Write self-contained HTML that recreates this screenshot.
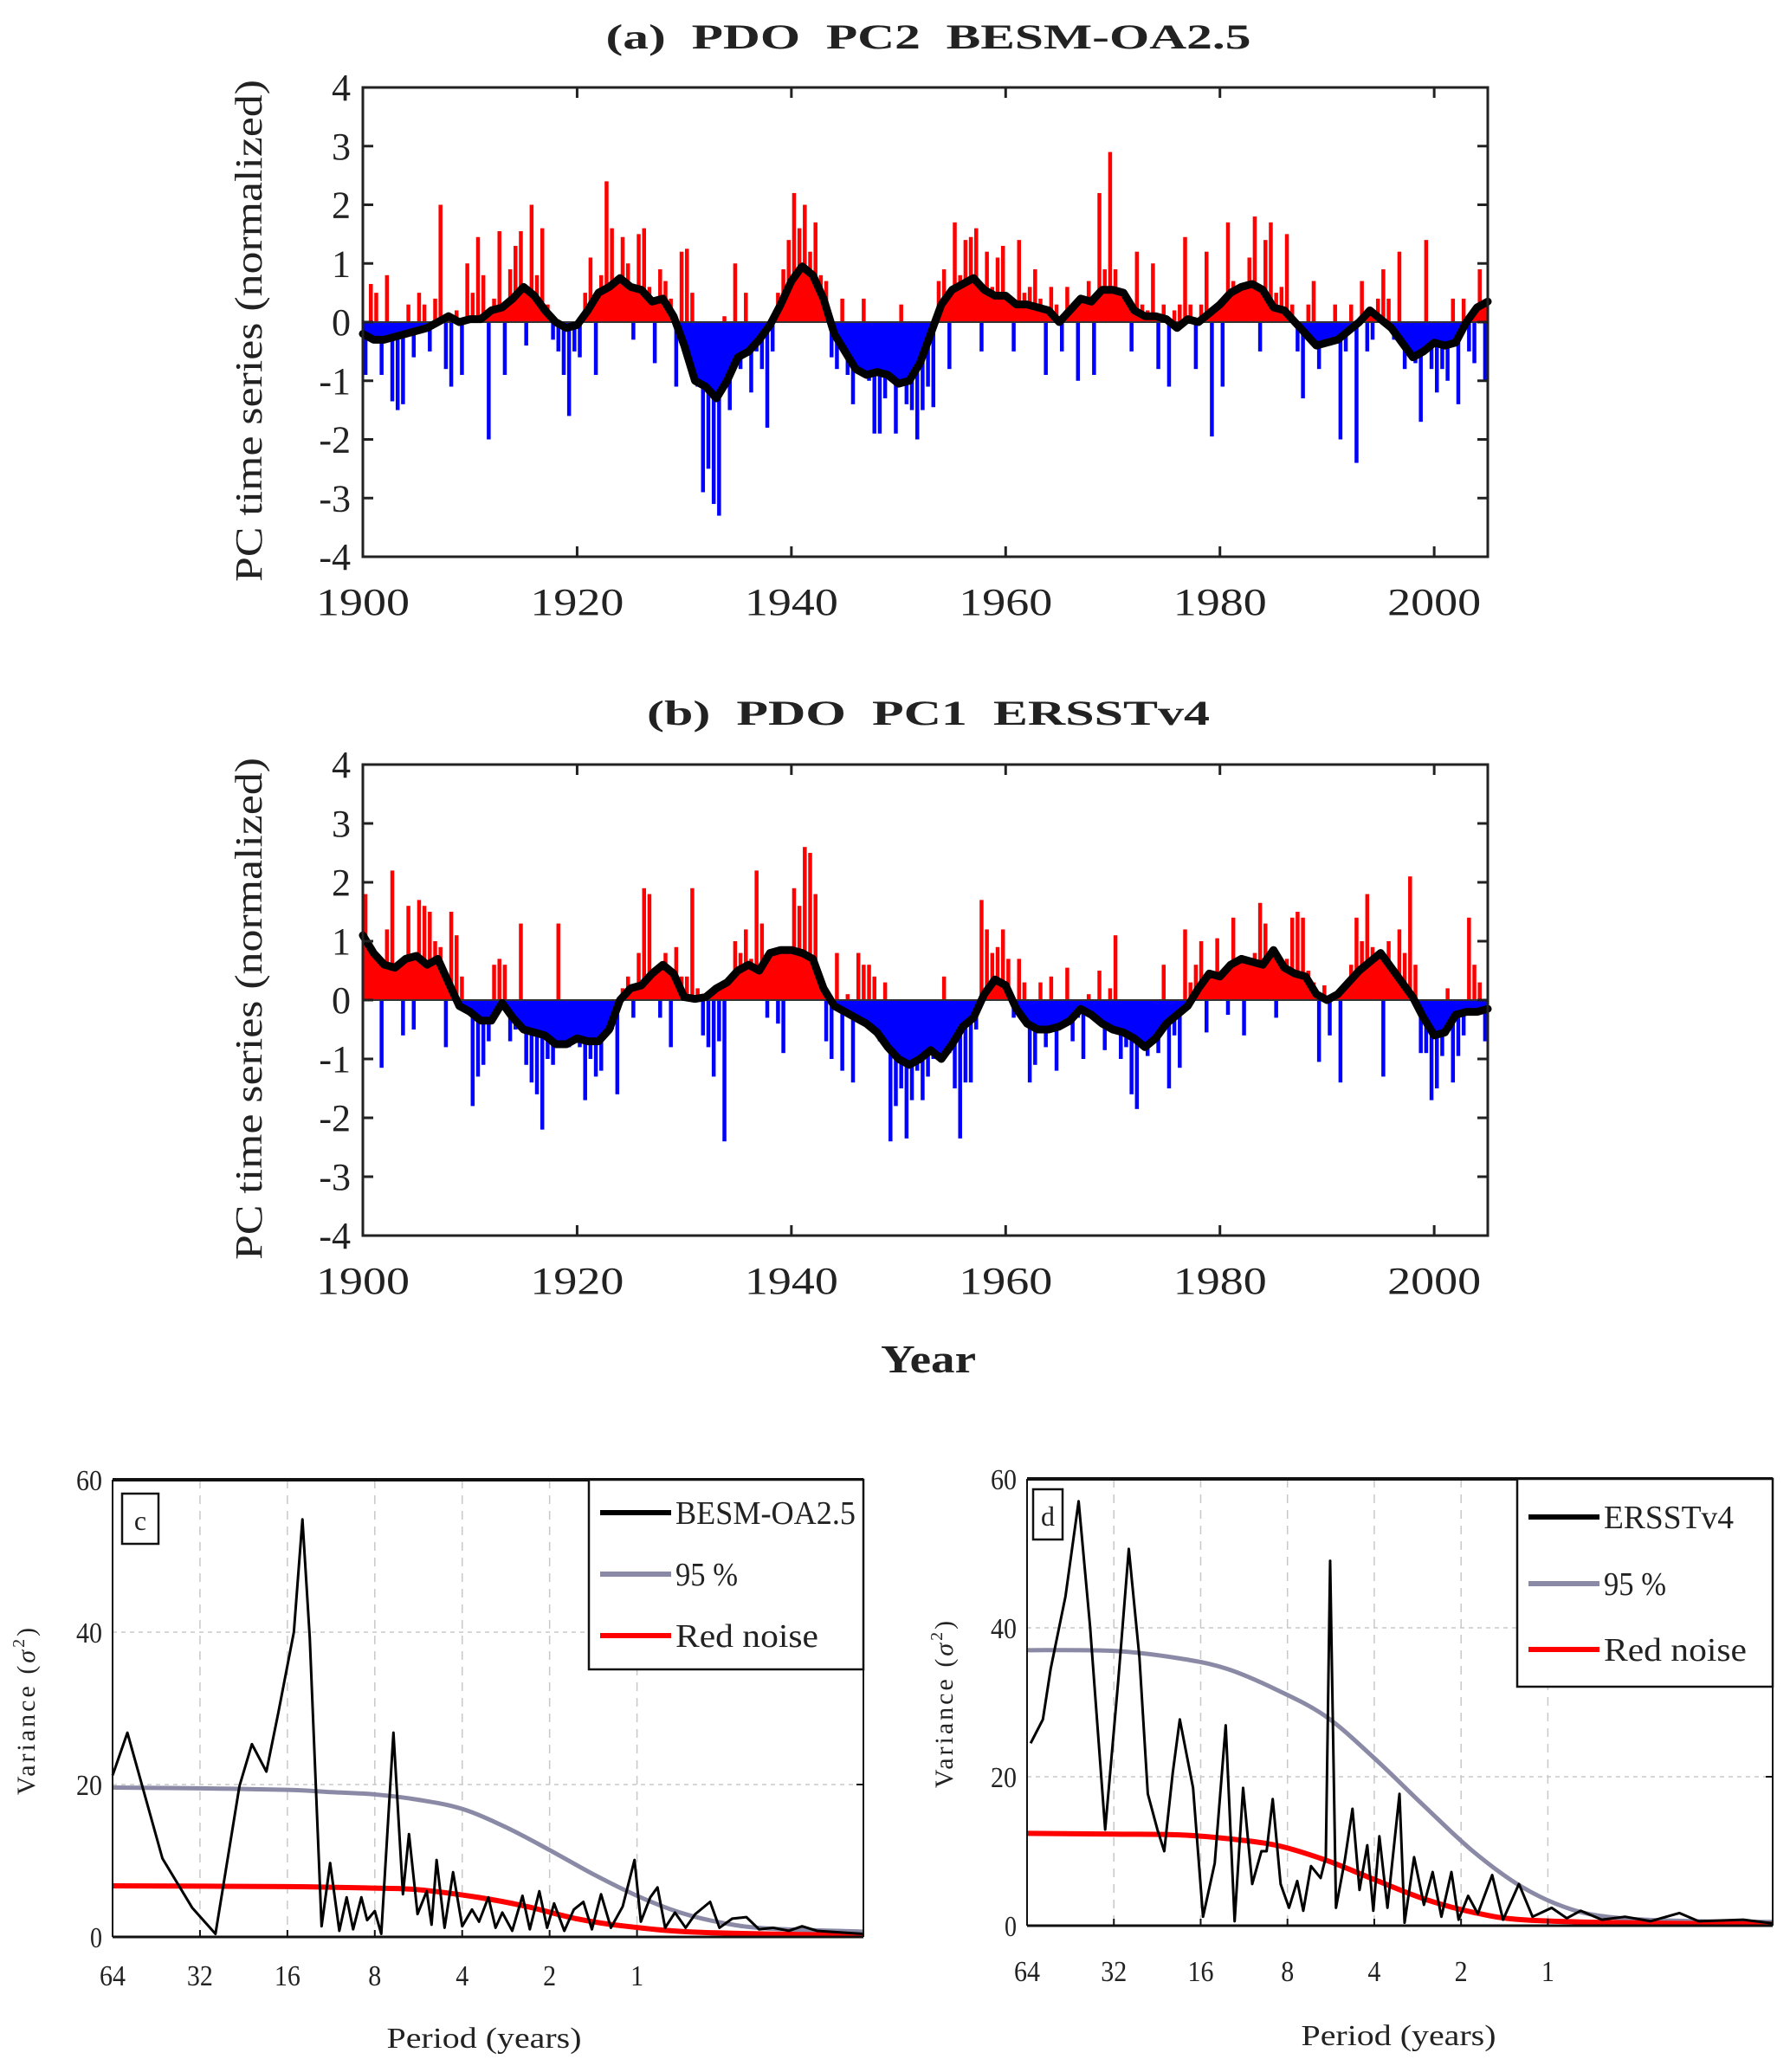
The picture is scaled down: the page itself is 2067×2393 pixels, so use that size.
<!DOCTYPE html>
<html><head><meta charset="utf-8"><title>PDO PC time series and spectra</title>
<style>
html,body{margin:0;padding:0;background:#fff;}
svg{display:block;}
text{font-family:"Liberation Serif",serif;fill:#222;}
</style></head>
<body>
<svg id="fig" xmlns="http://www.w3.org/2000/svg" width="2067" height="2393" viewBox="0 0 2067 2393">
<rect x="0" y="0" width="2067" height="2393" fill="#fff"/>
<g id="layer"></g>
</svg>
<script>
// ---------- Panel (a) data: half-year values 1900.0 .. 2004.5 ----------
const pcA = [
-0.9,0.65, 0.5,-0.9, 0.8,-1.35, -1.5,-1.4, 0.3,-0.6, 0.5,0.3, -0.5,0.4, 2.0,-0.8, -1.1,0.2, -0.9,1.0,
0.5,1.45, 0.8,-2.0, 0.4,1.55, -0.9,0.9, 1.3,1.55, -0.4,2.0, 0.8,1.6, 0.3,-0.3, -0.5,-0.9, -1.6,-0.5,
-0.6,0.5, 1.1,-0.9, 0.8,2.4, 1.6,0.7, 1.45,1.0, -0.3,1.5, 1.6,0.6, -0.7,0.9, 0.7,0.4, -1.1,1.2,
1.25,0.5, -1.1,-2.9, -2.5,-3.1, -3.3,0.1, -1.5,1.0, -0.8,0.5, -1.2,-0.5, -0.8,-1.8, -0.5,0.5, 0.9,1.4,
2.2,1.6, 2.0,1.2, 1.7,0.8, 0.7,-0.6, -0.8,0.4, -0.9,-1.4, -0.7,0.4, -1.0,-1.9, -1.9,-1.3, -1.0,-1.9,
0.3,-1.4, -1.5,-2.0, -1.5,-1.1, -1.45,0.7, 0.9,-0.8, 1.7,0.8, 1.4,1.45, 1.6,-0.5, 1.2,0.6, 1.1,1.3,
0.4,-0.5, 1.4,0.5, 0.6,0.9, 0.4,-0.9, 0.6,0.3, -0.5,0.6, 0.3,-1.0, 0.4,0.7, -0.9,2.2, 0.9,2.9,
0.9,0.5, 0.3,-0.5, 1.2,0.3, 0.2,1.0, -0.8,0.3, -1.1,0.2, 0.3,1.45, 0.3,-0.8, 0.3,1.2, -1.95,0.2,
-1.1,1.7, 0.7,0.5, 0.6,1.1, 1.8,-0.5, 1.4,1.7, 0.5,0.6, 1.5,0.3, -0.5,-1.3, 0.3,0.7, -0.8,-0.3,
-0.4,0.3, -2.0,-0.5, 0.3,-2.4, 0.7,-0.5, -0.3,0.4, 0.9,0.4, -0.3,1.2, -0.8,-0.6, -0.7,-1.7, 1.4,-0.8,
-1.2,-0.8, -1.0,0.4, -1.4,0.4, -0.5,-0.7, 0.9,-1.0];
// annual smoothed index 1900..2005
const smoothA = [
-0.2,-0.3,-0.3,-0.25,-0.2,-0.15,-0.1,0.0,0.1,0.0, 0.05,0.05,0.2,0.25,0.4,0.6,0.45,0.2,0.0,-0.1,
-0.05,0.2,0.5,0.6,0.75,0.6,0.55,0.35,0.4,0.1, -0.4,-1.0,-1.1,-1.3,-1.0,-0.6,-0.5,-0.3,-0.05,0.3,
0.7,0.95,0.8,0.4,-0.2,-0.5,-0.8,-0.9,-0.85,-0.9, -1.05,-1.0,-0.7,-0.2,0.3,0.55,0.65,0.75,0.55,0.45,
0.45,0.3,0.3,0.25,0.2,0.0,0.2,0.4,0.35,0.55, 0.55,0.5,0.2,0.1,0.1,0.05,-0.1,0.05,0.0,0.15,
0.3,0.5,0.6,0.65,0.55,0.25,0.2,0.0,-0.2,-0.4, -0.35,-0.3,-0.15,0.0,0.2,0.05,-0.1,-0.35,-0.6,-0.5,
-0.35,-0.4,-0.35,0.0,0.25,0.35];
// ---------- Panel (b) data ----------
const pcB = [
1.8,0.3, 0.3,-1.15, 1.2,2.2, 0.5,-0.6, 1.6,-0.5, 1.7,1.6, 1.5,1.0, 0.9,-0.8, 1.5,1.1, 0.4,-0.2,
-1.8,-1.3, -1.1,-0.7, 0.6,0.7, 0.6,-0.7, -0.5,1.3, -1.1,-1.4, -1.6,-2.2, -1.0,-1.1, 1.3,-0.6, -0.8,-0.5,
-0.8,-1.7, -1.0,-1.3, -1.2,-0.6, -0.5,-1.6, 0.2,0.4, -0.3,0.8, 1.9,1.8, 0.3,-0.3, 0.8,-0.8, 0.9,0.4,
0.4,1.9, 0.2,-0.6, -0.8,-1.3, -0.7,-2.4, 0.4,1.0, 0.8,1.2, 0.7,2.2, 1.3,-0.3, 0.4,-0.4, -0.9,0.4,
1.9,1.6, 2.6,2.5, 1.8,0.3, -0.7,-1.0, 0.8,-1.2, 0.1,-1.4, 0.8,0.6, 0.6,0.4, -0.7,0.3, -2.4,-1.8,
-1.5,-2.35, -1.7,-1.2, -1.7,-1.3, -1.0,-0.8, 0.4,-0.9, -1.5,-2.35, -1.4,-1.4, -0.5,1.7, 1.2,0.8, 0.9,1.2,
0.7,-0.3, 0.7,0.3, -1.4,-1.1, 0.3,-0.8, 0.4,-1.2, -0.4,0.55, -0.7,-0.3, -1.0,0.1, -0.3,0.5, -0.85,0.2,
1.1,-1.0, -0.8,-1.6, -1.85,-0.3, -0.95,-0.5, -0.9,0.6, -1.5,-0.6, -1.15,1.2, 0.3,0.6, 1.0,-0.55, 0.5,1.05,
0.4,-0.25, 1.4,0.6, -0.6,0.35, 0.8,1.65, 1.3,0.8, -0.3,0.6, 0.7,1.4, 1.5,1.4, 0.5,0.3, -1.05,0.25,
-0.6,0.0, -1.4,0.3, 0.6,1.4, 1.0,1.8, 0.9,0.3, -1.3,1.0, 0.5,1.2, 0.8,2.1, 0.6,-0.9, -0.9,-1.7,
-1.5,-0.95, 0.2,-1.4, -0.95,-0.6, 1.4,0.6, 0.3,-0.7];
const smoothB = [
1.1,0.8,0.6,0.55,0.7,0.75,0.6,0.7,0.3,-0.1, -0.2,-0.35,-0.35,-0.05,-0.3,-0.5,-0.55,-0.6,-0.75,-0.75,
-0.65,-0.7,-0.7,-0.5,0.0,0.2,0.25,0.45,0.6,0.45, 0.05,0.02,0.05,0.2,0.3,0.5,0.6,0.5,0.8,0.85,
0.85,0.8,0.7,0.2,-0.1,-0.2,-0.3,-0.4,-0.55,-0.8, -1.0,-1.1,-1.0,-0.85,-1.0,-0.75,-0.45,-0.3,0.1,0.35,
0.25,-0.15,-0.4,-0.5,-0.5,-0.45,-0.35,-0.15,-0.25,-0.4, -0.5,-0.55,-0.65,-0.8,-0.65,-0.4,-0.25,-0.1,0.2,0.45,
0.4,0.6,0.7,0.65,0.6,0.85,0.55,0.45,0.4,0.1, 0.0,0.1,0.3,0.5,0.65,0.8,0.55,0.3,0.05,-0.3,
-0.6,-0.55,-0.25,-0.2,-0.2,-0.15];
const yearTicks = [1900,1920,1940,1960,1980,2000];
const pcTicks = [4,3,2,1,0,-1,-2,-3,-4];

// ---------- Spectrum (c) ----------
const cPeriods = [64,56.9,43.1,34.0,28.3,23.4,21.2,18.9,17.2,15.2,14.2,13.4,12.2,11.4,10.6,10.0,9.5,8.9,8.5,8.0,7.6,6.9,6.4,6.1,5.7,5.3,5.1,4.9,4.6,4.3,4.0,3.7,3.5,3.25,3.07,2.91,2.69,2.48,2.34,2.17,2.04,1.93,1.78,1.65,1.53,1.43,1.33,1.23,1.12,1.02,0.97,0.90,0.85,0.80,0.74,0.68,0.63,0.56,0.52,0.47,0.42,0.38,0.34,0.30,0.27,0.24,0.20,0.166];
const cVariance = [21.2,26.8,10.3,3.8,0.4,19.8,25.3,21.7,29.4,40,54.8,39.3,1.4,9.7,0.8,5.2,1,5.2,2.2,3.4,0.4,26.8,5.6,13.5,3,6,1.6,10.1,1.2,8.5,1.4,3.6,2,5.2,1.2,3.2,0.8,5.4,1,6,1.2,4.4,0.8,3.6,4.6,1,5.6,1.2,4,10.1,2,5.2,6.5,1.2,3.2,1.2,3,4.6,1.2,2.4,2.6,1,1.2,0.8,1.4,0.8,0.6,0.4];
const c95Periods = [64,32,16,11.3,8,5.66,4,2.83,2,1.41,1,0.71,0.5,0.35,0.166];
const c95Values = [19.6,19.5,19.3,19.0,18.7,18.0,16.8,14.4,11.4,8.2,5.4,3.2,1.8,1.1,0.7];
const cRedPeriods = [64,16,8,5.66,3.53,2.4,1.62,1.09,0.6,0.166];
const cRedValues = [6.7,6.6,6.4,6.2,5.2,4.0,2.4,1.4,0.6,0.2];
// ---------- Spectrum (d) ----------
const dPeriods = [62.2,56.4,53.0,47.1,42.4,38.7,34.3,30.9,28.4,26.1,24.4,22.6,21.4,20.0,18.9,17.0,15.7,14.3,13.1,12.2,11.4,10.6,9.85,9.45,9.0,8.45,7.9,7.4,7.05,6.63,6.14,5.89,5.69,5.43,5.06,4.76,4.5,4.23,4.03,3.84,3.6,3.27,3.14,2.91,2.69,2.51,2.34,2.16,2.04,1.89,1.75,1.56,1.43,1.26,1.13,0.97,0.86,0.77,0.65,0.54,0.44,0.35,0.30,0.21,0.166];
const dVariance = [24.5,27.7,34.5,44.2,57,40.2,12.9,32.9,50.6,36.1,17.7,12.9,10,20.5,27.7,18.5,1.2,8.4,26.9,0.6,18.5,5.6,10,10,17,5.6,2.4,6,2,8,6.4,9.2,49,2.4,8.8,15.7,4.8,10.8,2,12,2.4,17.7,0.4,9.2,2.8,7.2,1.2,7.2,0.8,4,1.6,6.8,0.8,5.6,1.2,2.4,1,2,0.8,1.2,0.6,1.7,0.6,0.8,0.3];
const d95Periods = [64,32,19,13,8.75,5.89,4,2.69,1.82,1.23,0.83,0.56,0.31,0.166];
const d95Values = [37,36.9,35.9,34.5,31.7,28.1,22.5,16.1,10,5.2,2.2,1.0,0.6,0.5];
const dRedPeriods = [64,32,19,13,8.75,5.89,4,2.69,1.82,1.23,0.56,0.166];
const dRedValues = [12.4,12.3,12.2,11.7,10.8,8.8,6.2,3.6,1.8,0.8,0.4,0.2];
const periodTicks = [64,32,16,8,4,2,1];
const varTicks = [0,20,40,60];

const NS = 'http://www.w3.org/2000/svg';
const layer = document.getElementById('layer');
function mk(tag, attrs, parent) {
  const e = document.createElementNS(NS, tag);
  for (const k in attrs) e.setAttribute(k, attrs[k]);
  (parent || layer).appendChild(e);
  return e;
}
function smoothPath(P) {
  let d = 'M' + P[0][0] + ',' + P[0][1];
  for (let i = 0; i < P.length - 1; i++) {
    const p0 = P[i - 1] || P[i], p1 = P[i], p2 = P[i + 1], p3 = P[i + 2] || p2;
    const c1x = p1[0] + (p2[0] - p0[0]) / 6, c1y = p1[1] + (p2[1] - p0[1]) / 6;
    const c2x = p2[0] - (p3[0] - p1[0]) / 6, c2y = p2[1] - (p3[1] - p1[1]) / 6;
    d += ' C' + c1x + ',' + c1y + ' ' + c2x + ',' + c2y + ' ' + p2[0] + ',' + p2[1];
  }
  return d;
}

// ---------------- Time series panels ----------------
function tsPanel(cfg) {
  const g = mk('g', {});
  
  
  const X0 = 419, X1 = 1718, T = cfg.top, B = cfg.bottom;
  const xs = yr => X0 + (yr - 1900) * (X1 - X0) / 105;
  const ys = v => T + (4 - v) * (B - T) / 8;
  const y0 = ys(0);
  const cid = cfg.name;
  const defs = mk('defs', {}, g);
  const cp1 = mk('clipPath', {id: cid + '-pos'}, defs);
  mk('rect', {x: X0, y: T, width: X1 - X0, height: y0 - T}, cp1);
  const cp2 = mk('clipPath', {id: cid + '-neg'}, defs);
  mk('rect', {x: X0, y: y0, width: X1 - X0, height: B - y0}, cp2);
  let pts = xs(1900) + ',' + y0 + ' ';
  cfg.smooth.forEach((v, i) => { pts += xs(1900 + i) + ',' + ys(v) + ' '; });
  pts += xs(1900 + cfg.smooth.length - 1) + ',' + y0;
  const fp = mk('polygon', {points: pts, fill: '#ff0000', 'clip-path': 'url(#' + cid + '-pos)'}, g);
  
  
  const fn = mk('polygon', {points: pts, fill: '#0000ff', 'clip-path': 'url(#' + cid + '-neg)'}, g);
  
  
  cfg.pc.forEach((v, i) => {
    const t = 1900 + i * 0.5 + 0.25;
    const w = 4.5;
    const top = Math.min(ys(v), y0), h = Math.abs(ys(v) - y0);
    const r = mk('rect', {x: xs(t) - w / 2, y: top, width: w, height: h, fill: v >= 0 ? '#ff0000' : '#0000ff'}, g);
    
    
  });
  const zl = mk('line', {x1: X0, x2: X1, y1: y0, y2: y0, stroke: '#333', 'stroke-width': 2}, g);
  
  
  let lp = '';
  cfg.smooth.forEach((v, i) => { lp += xs(1900 + i) + ',' + ys(v) + ' '; });
  const sl = mk('polyline', {points: lp, fill: 'none', stroke: '#000', 'stroke-width': 9, 'stroke-linejoin': 'round', 'stroke-linecap': 'round'}, g);
  
  
  const fr = mk('rect', {x: X0, y: T, width: X1 - X0, height: B - T, fill: 'none', stroke: '#222', 'stroke-width': 3}, g);
  
  
  pcTicks.forEach(v => {
    const y = ys(v);
    mk('line', {x1: X0, x2: X0 + 12, y1: y, y2: y, stroke: '#222', 'stroke-width': 3}, g);
    mk('line', {x1: X1 - 12, x2: X1, y1: y, y2: y, stroke: '#222', 'stroke-width': 3}, g);
    const tx = mk('text', {x: X0 - 14, y: y + 15, 'text-anchor': 'end', 'font-size': 44}, g);
    tx.textContent = String(v);
    
    
  });
  yearTicks.forEach(yr => {
    const x = xs(yr);
    mk('line', {x1: x, x2: x, y1: B, y2: B - 12, stroke: '#222', 'stroke-width': 3}, g);
    mk('line', {x1: x, x2: x, y1: T, y2: T + 12, stroke: '#222', 'stroke-width': 3}, g);
    const tx = mk('text', {x: x, y: B + 67, 'text-anchor': 'middle', 'font-size': 44, textLength: 108, lengthAdjust: 'spacingAndGlyphs'}, g);
    tx.textContent = String(yr);
    
    
  });
  const tt = mk('text', {x: 1072, y: cfg.titleY, 'text-anchor': 'middle', 'font-size': 40, 'font-weight': 'bold', textLength: cfg.titleLen, lengthAdjust: 'spacingAndGlyphs', 'xml:space': 'preserve', style: 'white-space:pre'}, g);
  tt.textContent = cfg.title;
  
  
  const cy = (T + B) / 2 + 10;
  const yl = mk('text', {x: 0, y: 0, 'text-anchor': 'middle', 'font-size': 44, transform: 'translate(302,' + cy + ') rotate(-90)', textLength: 580, lengthAdjust: 'spacingAndGlyphs'}, g);
  yl.textContent = 'PC time series (normalized)';
  
  
}
tsPanel({name: 'panel-a', top: 101, bottom: 643, pc: pcA, smooth: smoothA, title: '(a)  PDO  PC2  BESM-OA2.5', titleY: 56, titleLen: 745});
tsPanel({name: 'panel-b', top: 883, bottom: 1427, pc: pcB, smooth: smoothB, title: '(b)  PDO  PC1  ERSSTv4', titleY: 837, titleLen: 650});
const yr = mk('text', {x: 1072, y: 1585, 'text-anchor': 'middle', 'font-size': 46, 'font-weight': 'bold', textLength: 110, lengthAdjust: 'spacingAndGlyphs'});
yr.textContent = 'Year';



// ---------------- Spectrum panels ----------------
function specPanel(cfg) {
  const g = mk('g', {});
  
  
  const L = cfg.left, R = cfg.right, T = cfg.top, B = cfg.bottom;
  const OCT = 8.59;
  const xs = p => L + Math.log2(64 / p) * (R - L) / OCT;
  const ys = v => B - v * (B - T) / 60;
  periodTicks.forEach(p => {
    if (p === 64) return;
    mk('line', {x1: xs(p), x2: xs(p), y1: T, y2: B, stroke: '#c8c8c8', 'stroke-width': 1.5, 'stroke-dasharray': '10,8'}, g);
  });
  [20, 40].forEach(v => {
    mk('line', {x1: L, x2: R, y1: ys(v), y2: ys(v), stroke: '#c8c8c8', 'stroke-width': 1.5, 'stroke-dasharray': '5,5'}, g);
  });
  function curve(px, vals, color, w, nm) {
    const P = px.map((p, i) => [xs(p), ys(vals[i])]);
    const pa = mk('path', {d: smoothPath(P), fill: 'none', stroke: color, 'stroke-width': w, 'stroke-linejoin': 'round'}, g);
    
    
  }
  curve(cfg.p95, cfg.v95, '#8a8aa6', 5, 'confidence-95-line');
  curve(cfg.pRed, cfg.vRed, '#ff0000', 6, 'red-noise-line');
  let s = '';
  cfg.p.forEach((p, i) => { s += xs(p) + ',' + ys(cfg.v[i]) + ' '; });
  const pl0 = mk('polyline', {points: s, fill: 'none', stroke: '#000', 'stroke-width': 3, 'stroke-linejoin': 'round'}, g);
  
  
  mk('line', {x1: L, x2: R, y1: T, y2: T, stroke: '#111', 'stroke-width': 4}, g);
  mk('line', {x1: L, x2: R, y1: B, y2: B, stroke: '#111', 'stroke-width': 3}, g);
  mk('line', {x1: L, x2: L, y1: T, y2: B, stroke: '#111', 'stroke-width': 2}, g);
  mk('line', {x1: R, x2: R, y1: T, y2: B, stroke: '#111', 'stroke-width': 2}, g);
  varTicks.forEach(v => {
    mk('line', {x1: R - 8, x2: R, y1: ys(v), y2: ys(v), stroke: '#111', 'stroke-width': 2}, g);
    const t = mk('text', {x: L - 12, y: ys(v) + 12, 'text-anchor': 'end', 'font-size': 34, textLength: v === 0 ? 14 : 30, lengthAdjust: 'spacingAndGlyphs'}, g);
    t.textContent = String(v);
    
    
  });
  periodTicks.forEach(p => {
    mk('line', {x1: xs(p), x2: xs(p), y1: B, y2: B - 8, stroke: '#111', 'stroke-width': 2}, g);
    const t = mk('text', {x: xs(p), y: B + cfg.tickDy, 'text-anchor': 'middle', 'font-size': 34, textLength: String(p).length * 15, lengthAdjust: 'spacingAndGlyphs'}, g);
    t.textContent = String(p);
    
    
  });
  const lb = mk('rect', {x: cfg.lbx, y: cfg.lby, width: cfg.lbw, height: 58, fill: '#fff', stroke: '#111', 'stroke-width': 2.5}, g);
  
  
  const lt = mk('text', {x: cfg.lbx + cfg.lbw / 2, y: cfg.lby + 42, 'text-anchor': 'middle', 'font-size': 32}, g);
  lt.textContent = cfg.letter;
  
  
  const lg = mk('g', {}, g);
  
  
  mk('rect', {x: cfg.legX, y: T, width: R - cfg.legX, height: cfg.legB - T, fill: '#fff', stroke: '#111', 'stroke-width': 2.5}, lg);
  const entries = [[cfg.label, '#000', cfg.labLen], ['95 %', '#8a8aa6', 72], ['Red noise', '#ff0000', 165]];
  entries.forEach((e, i) => {
    const y = cfg.legY[i];
    const eg = mk('g', {}, lg);
    
    
    mk('line', {x1: cfg.legX + 13, x2: cfg.legX + 95, y1: y, y2: y, stroke: e[1], 'stroke-width': 6}, eg);
    const t = mk('text', {x: cfg.legX + 100, y: y + 13, 'font-size': 38, textLength: e[2], lengthAdjust: 'spacingAndGlyphs'}, eg);
    t.textContent = e[0];
  });
  const vl = mk('text', {x: 0, y: 0, 'text-anchor': 'middle', 'font-size': 30, 'letter-spacing': 3, transform: 'translate(' + cfg.vlx + ',' + cfg.vly + ') rotate(-90)'}, g);
  vl.innerHTML = 'Variance  (<tspan font-style="italic">σ</tspan><tspan font-size="20" dy="-12">2</tspan><tspan dy="12">)</tspan>';
  
  
  const pl = mk('text', {x: cfg.plx, y: cfg.ply, 'text-anchor': 'middle', 'font-size': 34, textLength: 225, lengthAdjust: 'spacingAndGlyphs'}, g);
  pl.textContent = 'Period  (years)';
  
  
}
specPanel({name: 'panel-c', left: 130, right: 997, top: 1709, bottom: 2237, p: cPeriods, v: cVariance, p95: c95Periods, v95: c95Values, pRed: cRedPeriods, vRed: cRedValues,
  tickDy: 56, lbx: 141, lby: 1725, lbw: 42, letter: 'c', legX: 680, legB: 1928, legY: [1747, 1818, 1889], label: 'BESM-OA2.5', labLen: 208,
  vlx: 40, vly: 1975, plx: 559, ply: 2365});
specPanel({name: 'panel-d', left: 1186, right: 2047, top: 1708, bottom: 2224, p: dPeriods, v: dVariance, p95: d95Periods, v95: d95Values, pRed: dRedPeriods, vRed: dRedValues,
  tickDy: 64, lbx: 1193, lby: 1720, lbw: 34, letter: 'd', legX: 1752, legB: 1948, legY: [1752, 1829, 1905], label: 'ERSSTv4', labLen: 150,
  vlx: 1100, vly: 1967, plx: 1615, ply: 2362});
</script>
</body></html>
